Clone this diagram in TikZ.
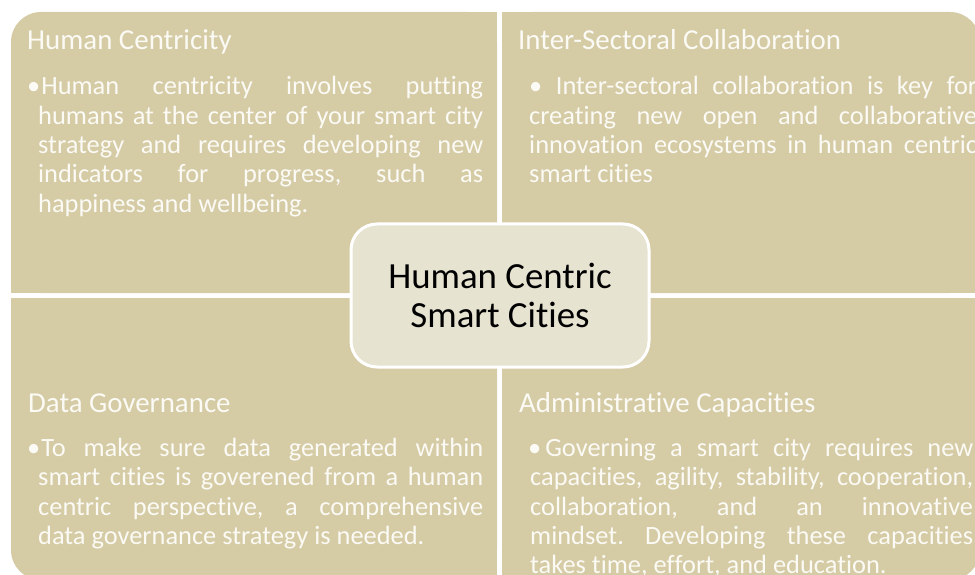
\documentclass[tikz,border=0pt]{standalone}
\usepackage{fontspec}
\setmainfont{Carlito}[Ligatures=NoCommon]
\frenchspacing
\definecolor{quad}{HTML}{D5CBA5}
\definecolor{ctr}{HTML}{E7E3D1}
\definecolor{txt}{HTML}{FBFAF5}
\newcommand{\jl}[2]{\makebox[#1bp][s]{#2}}
\newcommand{\TI}{t\kern0pt i}
\tikzset{
  ttl/.style={anchor=base west, inner sep=0pt, text=txt, font=\fontsize{29}{34}\selectfont},
  bodyline/.style={anchor=base west, inner sep=0pt, text=txt, font=\fontsize{26.5}{29}\selectfont},
  quadfill/.style={fill=quad},
  centerbox/.style={draw=white, line width=3bp, fill=ctr, rounded corners=26bp,
    minimum width=298bp, minimum height=143bp, inner sep=0pt, align=center,
    font=\fontsize{37}{40}\selectfont, text=black},
}
\begin{document}
\begin{tikzpicture}[x=1bp,y=-1bp]
\useasboundingbox (0,0) rectangle (975,575);
\clip (0,0) rectangle (975,575);
% quadrants
\fill[quadfill, rounded corners=30bp] (11,12) rectangle (497,293);
\fill[quadfill] (41,12) rectangle (497,293);
\fill[quadfill] (11,42) rectangle (497,293);
\fill[quadfill, rounded corners=30bp] (502,12) rectangle (980,293);
\fill[quadfill] (502,12) rectangle (950,293);
\fill[quadfill] (502,42) rectangle (980,293);
\fill[quadfill, rounded corners=30bp] (11,298) rectangle (497,580);
\fill[quadfill] (41,298) rectangle (497,580);
\fill[quadfill] (11,298) rectangle (497,550);
\fill[quadfill, rounded corners=30bp] (502,298) rectangle (980,580);
\fill[quadfill] (502,298) rectangle (950,580);
\fill[quadfill] (502,298) rectangle (980,550);
% titles
\node[ttl] (t1) at (27,50) {Human Centricity};
\node[ttl] (t2) at (518,50) {Inter-Sectoral Collabora\TI on};
\node[ttl] (t3) at (28,412) {Data Governance};
\node[ttl] (t4) at (519,412) {Administra\TI ve Capaci\TI es};
% top-left body
\node[bodyline] (a1) at (27,95) {\jl{456}{•\hspace{1bp}Human centricity involves putting}};
\node[bodyline] (a2) at (38,124.3) {\jl{445}{humans at the center of your smart city}};
\node[bodyline] (a3) at (38,153.6) {\jl{445}{strategy and requires developing new}};
\node[bodyline] (a4) at (38,182.9) {\jl{445}{indicators for progress, such as}};
\node[bodyline] (a5) at (38,212.2) {happiness and wellbeing.};
% top-right body
\node[bodyline] (b1) at (529,95) {\jl{448}{• Inter-sectoral collabora\TI on is key for}};
\node[bodyline] (b2) at (529,124.3) {\jl{448}{crea\TI ng new open and collabora\TI ve}};
\node[bodyline] (b3) at (529,153.6) {\jl{448}{innova\TI on ecosystems in human centric}};
\node[bodyline] (b4) at (529,182.9) {smart ci\TI es};
% bottom-left body
\node[bodyline] (c1) at (27,456.5) {\jl{456}{•\hspace{1bp}To make sure data generated within}};
\node[bodyline] (c2) at (38,485.8) {\jl{445}{smart ci\TI es is goverened from a human}};
\node[bodyline] (c3) at (38,515.1) {\jl{445}{centric perspec\TI ve, a comprehensive}};
\node[bodyline] (c4) at (38,544.4) {data governance strategy is needed.};
% bottom-right body
\node[bodyline] (d1) at (528,456.5) {\jl{445}{•\hspace{4bp}Governing a smart city requires new}};
\node[bodyline] (d2) at (530,485.8) {\jl{443}{capaci\TI es, agility, stability, coopera\TI on,}};
\node[bodyline] (d3) at (530,515.1) {\jl{443}{collabora\TI on, and an innova\TI ve}};
\node[bodyline] (d4) at (530,544.4) {\jl{443}{mindset. Developing these capaci\TI es}};
\node[bodyline] (d5) at (530,573.7) {takes \TI me, ef\kern0pt fort, and educa\TI on.};
% hub
\node[centerbox] (hub) at (500,295.5) {Human Centric\\Smart Ci\TI es};
\end{tikzpicture}
\end{document}
